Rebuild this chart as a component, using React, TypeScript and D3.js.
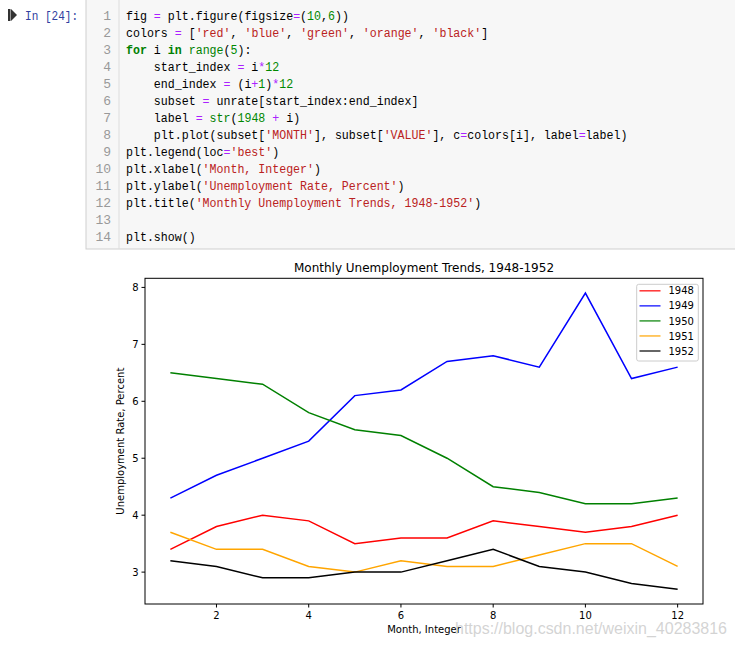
import * as d3 from "d3";

// chart data
const months = [1, 2, 3, 4, 5, 6, 7, 8, 9, 10, 11, 12];
const years = ["1948", "1949", "1950", "1951", "1952"];
const colors = ["red", "blue", "green", "orange", "black"];
const rate1948 = [3.4, 3.8, 4.0, 3.9, 3.5, 3.6, 3.6, 3.9, 3.8, 3.7, 3.8, 4.0];
const rate1949 = [4.3, 4.7, 5.0, 5.3, 6.1, 6.2, 6.7, 6.8, 6.6, 7.9, 6.4, 6.6];
const rate1950 = [6.5, 6.4, 6.3, 5.8, 5.5, 5.4, 5.0, 4.5, 4.4, 4.2, 4.2, 4.3];
const rate1951 = [3.7, 3.4, 3.4, 3.1, 3.0, 3.2, 3.1, 3.1, 3.3, 3.5, 3.5, 3.1];
const rate1952 = [3.2, 3.1, 2.9, 2.9, 3.0, 3.0, 3.2, 3.4, 3.1, 3.0, 2.8, 2.7];
const series = [rate1948, rate1949, rate1950, rate1951, rate1952];
const xTicks = [2, 4, 6, 8, 10, 12];
const yTicks = [3, 4, 5, 6, 7, 8];

// notebook cell source, tokenised: [text, kind]
type Tok = [string, string];
const codeLines: Tok[][] = [
  [["fig ", "n"], ["=", "o"], [" plt.figure(figsize", "n"], ["=", "o"], ["(", "n"], ["10", "m"], [",", "n"], ["6", "m"], ["))", "n"]],
  [["colors ", "n"], ["=", "o"], [" [", "n"], ["'red'", "s"], [", ", "n"], ["'blue'", "s"], [", ", "n"], ["'green'", "s"], [", ", "n"], ["'orange'", "s"], [", ", "n"], ["'black'", "s"], ["]", "n"]],
  [["for", "k"], [" i ", "n"], ["in", "k"], [" ", "n"], ["range", "b"], ["(", "n"], ["5", "m"], ["):", "n"]],
  [["    start_index ", "n"], ["=", "o"], [" i", "n"], ["*", "o"], ["12", "m"]],
  [["    end_index ", "n"], ["=", "o"], [" (i", "n"], ["+", "o"], ["1", "m"], [")", "n"], ["*", "o"], ["12", "m"]],
  [["    subset ", "n"], ["=", "o"], [" unrate[start_index:end_index]", "n"]],
  [["    label ", "n"], ["=", "o"], [" ", "n"], ["str", "b"], ["(", "n"], ["1948", "m"], [" ", "n"], ["+", "o"], [" i)", "n"]],
  [["    plt.plot(subset[", "n"], ["'MONTH'", "s"], ["], subset[", "n"], ["'VALUE'", "s"], ["], c", "n"], ["=", "o"], ["colors[i], label", "n"], ["=", "o"], ["label)", "n"]],
  [["plt.legend(loc", "n"], ["=", "o"], ["'best'", "s"], [")", "n"]],
  [["plt.xlabel(", "n"], ["'Month, Integer'", "s"], [")", "n"]],
  [["plt.ylabel(", "n"], ["'Unemployment Rate, Percent'", "s"], [")", "n"]],
  [["plt.title(", "n"], ["'Monthly Unemployment Trends, 1948-1952'", "s"], [")", "n"]],
  [],
  [["plt.show()", "n"]],
];

const tokColor: Record<string, string> = {
  n: "#000000",
  o: "#AA22FF",
  m: "#008800",
  s: "#BA2121",
  k: "#008000",
  b: "#008000",
};

// Liberation Mono advance is 0.6em: 13.5px * 0.6 * 0.8605 ≈ 6.97px per char
const CODE_SIZE = 13.5;
const CODE_SX = 0.8605;
const mono = "'Liberation Mono', 'DejaVu Sans Mono', monospace";
const sans = "'DejaVu Sans', sans-serif";

export default function App() {
  const x = d3.scaleLinear().domain([0.45, 12.55]).range([145, 703]);
  const y = d3.scaleLinear().domain([2.44, 8.16]).range([604, 278.3]);
  const line = d3
    .line<number>()
    .x((_, i) => x(months[i]))
    .y((d) => y(d));

  return (
    <svg
      width={735}
      height={646}
      style={{ position: "absolute", left: 0, top: 0, background: "#fff" }}
    >
      {/* prompt */}
      <rect x={8} y={9} width={2.5} height={12} fill="#333" />
      <path d="M11,9 L17,15 L11,21 Z" fill="#333" />
      <text
        transform={`translate(25,20) scale(0.82,1)`}
        fontFamily={mono}
        fontSize={13.5}
        fill="#303F9F"
      >
        In [24]:
      </text>

      {/* code cell */}
      <rect x={86} y={-1} width={660} height={250} fill="#f7f7f7" stroke="#cfcfcf" />
      <line x1={119} y1={0} x2={119} y2={249} stroke="#dddddd" />
      {codeLines.map((toks, li) => {
        const base = 19.5 + li * 17;
        return (
          <g key={li}>
            <text x={111} y={base} textAnchor="end" fontFamily={mono} fontSize={13} fill="#999">
              {li + 1}
            </text>
            {toks.length > 0 && (
              <text
                transform={`translate(126,${base}) scale(${CODE_SX},1)`}
                fontFamily={mono}
                fontSize={CODE_SIZE}
                style={{ whiteSpace: "pre" }}
              >
                {toks.map(([t, k], ti) => (
                  <tspan key={ti} fontWeight={k === "k" ? "bold" : "normal"} fill={tokColor[k]}>
                    {t}
                  </tspan>
                ))}
              </text>
            )}
          </g>
        );
      })}

      {/* chart */}
      <text x={424} y={272} textAnchor="middle" fontFamily={sans} fontSize={12} fill="#000">
        Monthly Unemployment Trends, 1948-1952
      </text>

      {series.map((vals, i) => (
        <path key={years[i]} d={line(vals) ?? ""} fill="none" stroke={colors[i]} strokeWidth={1.5} />
      ))}

      <rect x={145} y={278.3} width={558} height={325.7} fill="none" stroke="#000" strokeWidth={1} />

      {xTicks.map((t) => (
        <g key={t}>
          <line x1={x(t)} x2={x(t)} y1={604} y2={607.5} stroke="#000" />
          <text x={x(t)} y={619} textAnchor="middle" fontFamily={sans} fontSize={10} fill="#000">
            {t}
          </text>
        </g>
      ))}
      {yTicks.map((t) => (
        <g key={t}>
          <line x1={141.5} x2={145} y1={y(t)} y2={y(t)} stroke="#000" />
          <text x={138.5} y={y(t) + 3.6} textAnchor="end" fontFamily={sans} fontSize={10} fill="#000">
            {t}
          </text>
        </g>
      ))}

      <text
        transform={`translate(124,${(278.3 + 604) / 2}) rotate(-90)`}
        textAnchor="middle"
        fontFamily={sans}
        fontSize={10}
        fill="#000"
      >
        Unemployment Rate, Percent
      </text>
      <text x={424} y={633} textAnchor="middle" fontFamily={sans} fontSize={10} fill="#000">
        Month, Integer
      </text>

      {/* legend */}
      <rect x={636.7} y={284.3} width={61.6} height={76.7} rx={2} fill="#fff" fillOpacity={0.8} stroke="#cccccc" />
      {years.map((yr, i) => {
        const cy = 290.8 + i * 15.05;
        return (
          <g key={yr}>
            <line x1={639.5} x2={660.5} y1={cy} y2={cy} stroke={colors[i]} strokeWidth={1.5} opacity={0.8} />
            <text x={668.5} y={cy + 3.6} fontFamily={sans} fontSize={10} fill="#000">
              {yr}
            </text>
          </g>
        );
      })}

      {/* watermark */}
      <text
        x={455}
        y={634}
        fontFamily="'Liberation Sans', Arial, sans-serif"
        fontSize={16}
        textLength={272}
        fill="#cccccc"
        fillOpacity={0.85}
      >
        https://blog.csdn.net/weixin_40283816
      </text>
    </svg>
  );
}
